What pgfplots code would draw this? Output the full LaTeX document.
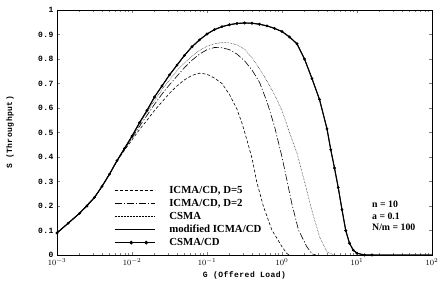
\documentclass[border=0pt]{standalone}
\usepackage{pgfplots}
\pgfplotsset{compat=1.18}
\usepackage{pgfplotstable}
\usepackage{fontspec}
\setmainfont{Liberation Serif}
\newfontfamily\monofont{Liberation Mono}[LetterSpace=6]

% lg = log10(G), S = throughput
\pgfplotstableread{
lg S
-3.0 0.09
-2.85 0.13
-2.7 0.17
-2.6 0.20
-2.5 0.235
-2.4 0.28
-2.3 0.33
-2.2 0.385
-2.1 0.435
-2.0 0.485
-1.9 0.54
-1.8 0.59
-1.7 0.645
-1.6 0.69
-1.5 0.735
-1.4 0.775
-1.3 0.815
-1.2 0.85
-1.1 0.878
-1.0 0.902
-0.9 0.92
-0.8 0.932
-0.7 0.940
-0.6 0.945
-0.5 0.947
-0.4 0.946
-0.3 0.942
-0.2 0.935
-0.1 0.925
0.0 0.912
0.1 0.89
0.2 0.862
0.3 0.80
0.4 0.72
0.5 0.635
0.6 0.515
0.65 0.43
0.7 0.355
0.75 0.275
0.8 0.185
0.85 0.10
0.9 0.048
0.95 0.02
1.0 0.007
1.1 0.0
1.2 0.0
}\csmacd

\pgfplotstableread{
lg S
-3.0 0.09
-2.7 0.17
-2.5 0.235
-2.4 0.28
-2.3 0.33
-2.2 0.385
-2.1 0.435
-2.0 0.485
-1.9 0.54
-1.8 0.59
-1.7 0.645
-1.6 0.69
-1.5 0.735
-1.4 0.775
-1.3 0.815
-1.2 0.85
-1.1 0.878
-1.0 0.902
-0.9 0.92
-0.8 0.932
-0.7 0.940
-0.6 0.945
-0.5 0.947
-0.4 0.946
-0.3 0.942
-0.2 0.935
-0.1 0.925
0.0 0.912
0.1 0.89
0.2 0.862
0.3 0.80
0.4 0.72
0.5 0.635
0.6 0.515
0.65 0.43
0.7 0.355
0.75 0.275
0.8 0.185
0.85 0.10
0.9 0.048
0.95 0.02
1.0 0.007
1.1 0.0
2.0 0.0
}\modicma

\pgfplotstableread{
lg S
-3.0 0.09
-2.7 0.17
-2.5 0.235
-2.4 0.28
-2.3 0.33
-2.2 0.385
-2.1 0.435
-2.0 0.483
-1.9 0.535
-1.8 0.583
-1.7 0.63
-1.6 0.675
-1.5 0.715
-1.4 0.752
-1.3 0.785
-1.2 0.812
-1.1 0.835
-1.0 0.852
-0.9 0.862
-0.8 0.867
-0.7 0.866
-0.6 0.858
-0.5 0.84
-0.4 0.805
-0.3 0.76
-0.2 0.71
-0.1 0.655
0.0 0.59
0.1 0.50
0.2 0.415
0.3 0.30
0.4 0.18
0.5 0.075
0.6 0.012
0.7 0.0
}\csma

\pgfplotstableread{
lg S
-3.0 0.09
-2.7 0.17
-2.5 0.235
-2.4 0.28
-2.3 0.33
-2.2 0.385
-2.1 0.432
-2.0 0.478
-1.9 0.525
-1.8 0.57
-1.7 0.615
-1.6 0.657
-1.5 0.695
-1.4 0.73
-1.3 0.765
-1.2 0.795
-1.1 0.82
-1.0 0.838
-0.9 0.847
-0.8 0.846
-0.7 0.838
-0.6 0.82
-0.5 0.793
-0.4 0.755
-0.3 0.705
-0.2 0.625
-0.1 0.525
0.0 0.40
0.065 0.306
0.13 0.211
0.22 0.102
0.33 0.034
0.4 0.005
0.45 0.0
}\icmatwo

\pgfplotstableread{
lg S
-3.0 0.09
-2.7 0.17
-2.5 0.235
-2.4 0.28
-2.3 0.33
-2.2 0.383
-2.1 0.428
-2.0 0.47
-1.9 0.512
-1.8 0.55
-1.7 0.59
-1.6 0.625
-1.5 0.66
-1.4 0.69
-1.3 0.715
-1.2 0.733
-1.1 0.742
-1.0 0.738
-0.9 0.722
-0.8 0.70
-0.7 0.655
-0.6 0.595
-0.53 0.535
-0.45 0.45
-0.4 0.395
-0.334 0.295
-0.246 0.197
-0.135 0.102
0.0 0.034
0.065 0.006
0.1 0.0
}\icmafive

\begin{document}
\begin{tikzpicture}
\begin{axis}[
  name=ax,
  scale only axis, width=375pt, height=245pt,
  xmode=log, xmin=1e-3, xmax=1e2, ymin=0, ymax=1,
  ytick={0,0.1,0.2,0.3,0.4,0.5,0.6,0.7,0.8,0.9,1},
  /pgf/number format/assume math mode=true,
  tick label style={font=\footnotesize\monofont\bfseries},
  yticklabel style={/pgf/number format/fixed},
  xlabel={G (Offered Load)},
  ylabel={S (Throughput)},
  every axis x label/.style={at={(axis description cs:0.5,-0.085)}, anchor=center,
    font=\footnotesize\monofont\bfseries},
  every axis y label/.style={at={(axis description cs:-0.125,0.5)}, anchor=center,
    rotate=90, font=\footnotesize\monofont\bfseries},
  tick align=inside,
  major tick length=3pt, minor tick length=2pt,
  axis line style={line width=0.9pt},
  legend cell align=left,
  legend style={at={(0.152,0.028)}, anchor=south west, draw=none, fill=none,
    font=\fontsize{10.8}{12}\selectfont\bfseries, inner sep=0pt,
    nodes={inner sep=1pt}, row sep=2.2pt, column sep=13pt},
  legend image code/.code={\draw[#1] (0pt,0pt) -- (40pt,0pt);},
]
\addplot[black, line width=0.6pt, dash pattern=on 3pt off 2pt]
  table[x expr=10^(\thisrow{lg}), y=S] {\icmafive};
\addlegendentry{ICMA/CD, D=5}
\addplot[black, line width=0.6pt, dash pattern=on 7pt off 2pt on 1.2pt off 2pt]
  table[x expr=10^(\thisrow{lg}), y=S] {\icmatwo};
\addlegendentry{ICMA/CD, D=2}
\addplot[black, line width=0.5pt, densely dotted]
  table[x expr=10^(\thisrow{lg}), y=S] {\csma};
\addlegendentry{CSMA}
\addplot[black, line width=1.1pt]
  table[x expr=10^(\thisrow{lg}), y=S] {\modicma};
\addlegendentry{modified ICMA/CD}
\addplot[black, line width=0.8pt, mark=*, mark size=1.0pt,
  legend image code/.code={\draw[black, line width=0.8pt] (0pt,0pt) -- (40pt,0pt);
    \fill[black] (16.5pt,0pt) circle (1.5pt); \fill[black] (31.5pt,0pt) circle (1.5pt);}]
  table[x expr=10^(\thisrow{lg}), y=S] {\csmacd};
\addlegendentry{CSMA/CD}
\node[anchor=west, align=left, font=\fontsize{9.8}{11.5}\selectfont\bfseries, inner sep=0pt]
  at (rel axis cs:0.84,0.16) {n = 10\\a = 0.1\\N/m = 100};
\end{axis}
\pgfresetboundingbox
\path (ax.south west) ++(-57pt,-34pt) coordinate (bl);
\path (ax.north east) ++(8pt,10pt) coordinate (tr);
\path[use as bounding box] (bl) rectangle (tr);
\end{tikzpicture}
\end{document}
